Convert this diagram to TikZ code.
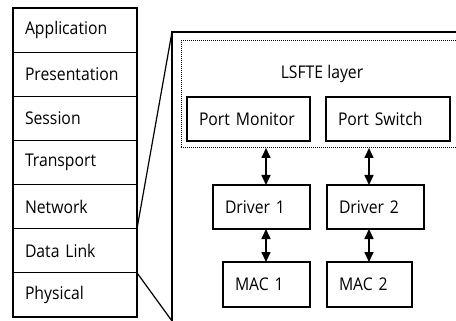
\documentclass[tikz,border=0pt]{standalone}
\usepackage{fontspec}
\setmainfont{Open Sans}[FakeStretch=0.9]
\usetikzlibrary{arrows.meta,calc}
\begin{document}
\begin{tikzpicture}[x=1pt,y=-1pt,
  font=\fontsize{17.5}{20}\selectfont,
  layer/.style={draw, line width=1.2pt, outer sep=0pt, anchor=north west, align=left,
    inner xsep=12pt, inner ysep=0pt, text width=100pt, minimum height=44.14pt},
  blk/.style={draw, line width=1.2pt, outer sep=0pt, anchor=north west, align=left,
    inner xsep=12pt, inner ysep=0pt},
  frame/.style={line width=1.2pt},
  dotbox/.style={draw, line width=1pt, dash pattern=on 1pt off 1pt,
    anchor=north west, inner sep=0pt, outer sep=0pt},
  arr/.style={line width=1.6pt, {Triangle[length=10pt,width=9pt]}-{Triangle[length=10pt,width=9pt]}}]
\useasboundingbox (0,0) rectangle (456,321);
\clip (0,0) rectangle (456,321);

% protocol stack
\node[layer] (app) at (13,8) {Application};
\node[layer] (pre) at (app.south west) {Presentation};
\node[layer] (ses) at (pre.south west) {Session};
\node[layer] (tra) at (ses.south west) {Transport};
\node[layer] (net) at (tra.south west) {Network};
\node[layer] (dat) at (net.south west) {Data Link};
\node[layer] (phy) at (dat.south west) {Physical};

% zoom frame
\coordinate (ftl) at (172,32);
\coordinate (ftr) at (470,32);
\coordinate (fbl) at (172,330);
\draw[frame] (ftr) -- (ftl) -- (fbl);
\draw[frame] (net.south east) -- (ftl);
\draw[frame] (dat.south east) -- ($(dat.south east)!1.38!(172,321)$);

% LSFTE layer
\node[dotbox, minimum width=290pt, minimum height=107pt] (lsf) at (181,41) {};
\node (lsft) at (322,74) {LSFTE layer};
\node[blk, text width=99pt, minimum height=44pt] (pm) at (187,97) {Port Monitor};
\node[blk, text width=100pt, minimum height=44pt] (ps) at (326,97) {Port Switch};

% drivers and MACs
\node[blk, text width=73pt, minimum height=44pt] (dr1) at (213,185) {Driver 1};
\node[blk, text width=73pt, minimum height=44pt] (dr2) at (327,185) {Driver 2};
\node[blk, text width=63pt, minimum height=45pt] (mac1) at (223,262) {MAC 1};
\node[blk, text width=61pt, minimum height=45pt] (mac2) at (327,262) {MAC 2};

% links
\draw[arr] ([xshift=53pt]dr1.north west |- lsf.south) -- ([xshift=53pt]dr1.north west);
\draw[arr] ([xshift=42pt]dr2.north west |- lsf.south) -- ([xshift=42pt]dr2.north west);
\draw[arr] ([xshift=53pt]dr1.south west) -- ([xshift=43pt]mac1.north west);
\draw[arr] ([xshift=42pt]dr2.south west) -- ([xshift=42pt]mac2.north west);
\end{tikzpicture}
\end{document}
